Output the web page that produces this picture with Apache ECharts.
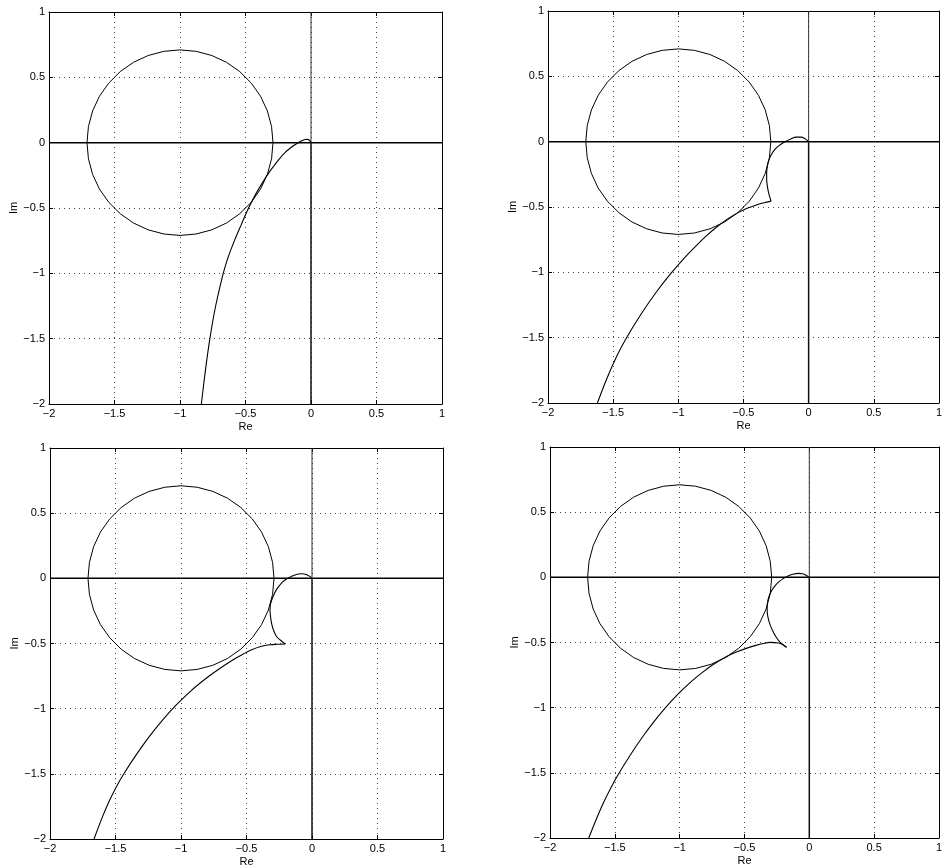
<!DOCTYPE html>
<html lang="en">
<head>
<meta charset="UTF-8">
<title>Nyquist</title>
<style>
  html, body { margin: 0; padding: 0; background: #fff; }
  #main { width: 945px; height: 868px; }
</style>
</head>
<body>
<div id="main"></div>
<script src="https://cdn.jsdelivr.net/npm/echarts@6.0.0/dist/echarts.min.js"></script>
<script>
// axis range / ticks (same for all four plots)
var axisMin = -2, axisMax = 1, tickStep = 0.5;

// M-circle, centre -1, radius ~0.71 (points read every 10 deg)
var circle = [
  [-0.29, 0], [-0.301, 0.123], [-0.333, 0.243], [-0.385, 0.355], [-0.456, 0.456],
  [-0.544, 0.544], [-0.645, 0.615], [-0.757, 0.667], [-0.877, 0.699], [-1, 0.71],
  [-1.123, 0.699], [-1.243, 0.667], [-1.355, 0.615], [-1.456, 0.544], [-1.544, 0.456],
  [-1.615, 0.355], [-1.667, 0.243], [-1.699, 0.123], [-1.71, 0], [-1.699, -0.123],
  [-1.667, -0.243], [-1.615, -0.355], [-1.544, -0.456], [-1.456, -0.544], [-1.355, -0.615],
  [-1.243, -0.667], [-1.123, -0.699], [-1, -0.71], [-0.877, -0.699], [-0.757, -0.667],
  [-0.645, -0.615], [-0.544, -0.544], [-0.456, -0.456], [-0.385, -0.355], [-0.333, -0.243],
  [-0.301, -0.123], [-0.29, 0]
];

// real / imaginary axis lines
var realAxis = [[-2, 0], [1, 0]];
var imagUp = [[0, 1], [0, 0]];
var imagDown = [[0, 0], [0, -2]];

// plot 1 (top left)
var nyq1 = [
  [-0.837, -2.0], [-0.807, -1.75], [-0.772, -1.5], [-0.728, -1.25], [-0.67, -1.0],
  [-0.631, -0.872], [-0.582, -0.744], [-0.532, -0.627], [-0.481, -0.51], [-0.421, -0.392],
  [-0.35, -0.273], [-0.302, -0.203], [-0.249, -0.133], [-0.193, -0.071], [-0.137, -0.026],
  [-0.10, -0.002], [-0.07, 0.015], [-0.045, 0.024], [-0.025, 0.025], [-0.01, 0.016], [0, 0]
];

// plot 2 (top right)
var nyq2Low = [
  [-1.621, -2.0], [-1.545, -1.805], [-1.47, -1.637], [-1.394, -1.495], [-1.284, -1.317],
  [-1.174, -1.158], [-1.065, -1.018], [-0.963, -0.9], [-0.86, -0.793], [-0.783, -0.719],
  [-0.705, -0.653], [-0.627, -0.595], [-0.548, -0.547], [-0.472, -0.51], [-0.396, -0.482],
  [-0.342, -0.467], [-0.288, -0.455]
];
var nyq2Up = [
  [-0.288, -0.455], [-0.305, -0.4], [-0.316, -0.345], [-0.322, -0.29], [-0.322, -0.235],
  [-0.315, -0.18], [-0.301, -0.13], [-0.28, -0.088], [-0.255, -0.055], [-0.225, -0.028],
  [-0.195, -0.008], [-0.165, 0.008], [-0.13, 0.025], [-0.095, 0.035], [-0.06, 0.035],
  [-0.03, 0.025], [-0.01, 0.01], [0, 0]
];

// plot 3 (bottom left)
var nyq3Low = [
  [-1.664, -2.0], [-1.608, -1.851], [-1.553, -1.72], [-1.497, -1.606], [-1.441, -1.507],
  [-1.341, -1.353], [-1.241, -1.213], [-1.141, -1.088], [-1.047, -0.983], [-0.926, -0.865],
  [-0.805, -0.765], [-0.704, -0.692], [-0.602, -0.625], [-0.531, -0.584], [-0.46, -0.548],
  [-0.391, -0.523], [-0.322, -0.51], [-0.264, -0.506], [-0.205, -0.504]
];
var nyq3Up = [
  [-0.205, -0.504], [-0.24, -0.475], [-0.271, -0.446], [-0.295, -0.395], [-0.309, -0.343],
  [-0.317, -0.29], [-0.321, -0.24], [-0.315, -0.19], [-0.297, -0.139], [-0.27, -0.085],
  [-0.233, -0.036], [-0.195, -0.005], [-0.157, 0.015], [-0.12, 0.03], [-0.08, 0.035],
  [-0.045, 0.03], [-0.017, 0.015], [0, 0]
];

// plot 4 (bottom right)
var nyq4Low = [
  [-1.701, -2.0], [-1.643, -1.856], [-1.585, -1.724], [-1.526, -1.606], [-1.468, -1.503],
  [-1.378, -1.359], [-1.288, -1.227], [-1.198, -1.107], [-1.114, -1.005], [-1.013, -0.896],
  [-0.911, -0.8], [-0.829, -0.733], [-0.747, -0.673], [-0.652, -0.615], [-0.557, -0.571],
  [-0.481, -0.543], [-0.405, -0.52], [-0.355, -0.508], [-0.304, -0.499], [-0.24, -0.504],
  [-0.205, -0.516], [-0.175, -0.537]
];
var nyq4Up = [
  [-0.175, -0.537], [-0.2, -0.52], [-0.228, -0.495], [-0.255, -0.46], [-0.28, -0.415],
  [-0.302, -0.365], [-0.318, -0.31], [-0.325, -0.255], [-0.323, -0.2], [-0.312, -0.15],
  [-0.292, -0.105], [-0.265, -0.065], [-0.233, -0.033], [-0.198, -0.008], [-0.16, 0.012],
  [-0.12, 0.025], [-0.085, 0.03], [-0.05, 0.027], [-0.022, 0.014], [0, 0]
];

var panels = [
  { grid: { left: 49, top: 12, width: 393, height: 392 }, curves: [nyq1] },
  { grid: { left: 548, top: 11, width: 395, height: 392 }, curves: [nyq2Low, nyq2Up] },
  { grid: { left: 50, top: 448, width: 393, height: 391 }, curves: [nyq3Low, nyq3Up] },
  { grid: { left: 550, top: 447, width: 395, height: 391 }, curves: [nyq4Low, nyq4Up] }
];

var font = 'Liberation Sans, Arial, Helvetica, sans-serif';
function fmt(v) { return String(v).replace('-', '\u2212'); }

var grids = [], xAxes = [], yAxes = [], series = [];

panels.forEach(function (p, i) {
  grids.push(p.grid);
  var common = {
    type: 'value', min: axisMin, max: axisMax, interval: tickStep, gridIndex: i,
    axisLine: { show: true, onZero: false, lineStyle: { color: '#000', width: 1 } },
    axisTick: { show: true, inside: true, length: 4, lineStyle: { color: '#000' } }
  };
  // bottom / left axes carry labels and the dotted grid
  xAxes.push(Object.assign({}, common, {
    position: 'bottom',
    name: 'Re', nameLocation: 'middle', nameGap: 17,
    nameTextStyle: { fontFamily: font, fontSize: 11, color: '#000' },
    axisLabel: { margin: 4, fontFamily: font, fontSize: 11, color: '#000', formatter: fmt },
    splitLine: { show: true, lineStyle: { color: '#444', width: 1, type: [1, 4] } }
  }));
  xAxes.push(Object.assign({}, common, {
    position: 'top', axisLabel: { show: false }, splitLine: { show: false }
  }));
  yAxes.push(Object.assign({}, common, {
    position: 'left',
    name: 'Im', nameLocation: 'middle', nameGap: 26, nameRotate: 90,
    nameTextStyle: { fontFamily: font, fontSize: 11, color: '#000' },
    axisLabel: { margin: 4, fontFamily: font, fontSize: 11, color: '#000', formatter: fmt },
    splitLine: { show: true, lineStyle: { color: '#444', width: 1, type: [1, 4] } }
  }));
  yAxes.push(Object.assign({}, common, {
    position: 'right', axisLabel: { show: false }, splitLine: { show: false }
  }));

  var xi = 2 * i, yi = 2 * i;
  function line(data, width, color, smooth) {
    series.push({
      type: 'line', xAxisIndex: xi, yAxisIndex: yi, data: data,
      showSymbol: false, symbol: 'none', smooth: smooth || false, silent: true,
      lineStyle: { color: color, width: width }, z: 3
    });
  }
  line(realAxis, 1.5, '#000');
  line(imagUp, 1, '#333');
  line(imagDown, 1.5, '#111');
  line(circle, 1, '#000');
  p.curves.forEach(function (c) { line(c, 1.1, '#000', 0.3); });
});

var option = {
  animation: false,
  backgroundColor: '#fff',
  grid: grids,
  xAxis: xAxes,
  yAxis: yAxes,
  series: series
};

var myChart = echarts.init(document.getElementById('main'));
myChart.setOption(option);
</script>
</body>
</html>
